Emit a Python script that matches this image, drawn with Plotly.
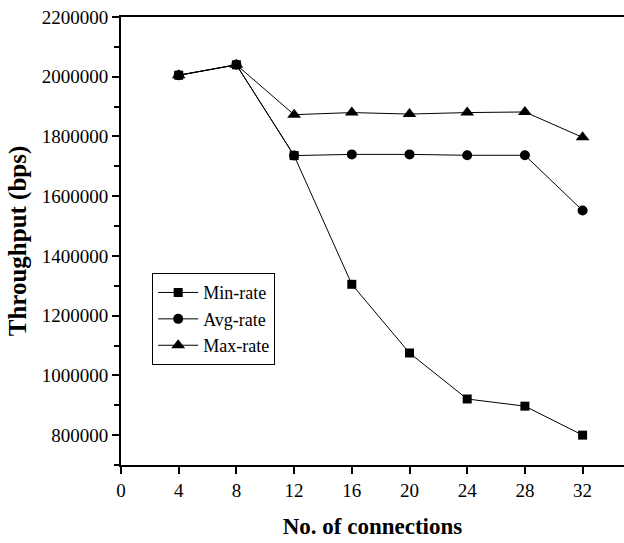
import plotly.graph_objects as go

connections = [4, 8, 12, 16, 20, 24, 28, 32]
min_rate = [2005000, 2040000, 1736000, 1305000, 1075000, 921000, 897000, 800000]
avg_rate = [2005000, 2040000, 1736000, 1740000, 1740000, 1737000, 1737000, 1552000]
max_rate = [2005000, 2040000, 1873000, 1880000, 1875000, 1880000, 1882000, 1797000]

x_ticks = [0, 4, 8, 12, 16, 20, 24, 28, 32]
y_ticks = [800000, 1000000, 1200000, 1400000, 1600000, 1800000, 2000000, 2200000]

FONT = "Liberation Serif, Times New Roman, serif"

fig = go.Figure()
series = [
    ("Min-rate", min_rate, "square", 9),
    ("Avg-rate", avg_rate, "circle", 10),
    ("Max-rate", max_rate, "triangle-up", 12),
]
for name, vals, sym, sz in series:
    fig.add_trace(go.Scatter(
        x=connections, y=vals, name=name, mode="lines+markers",
        line=dict(color="black", width=1),
        marker=dict(symbol=sym, size=sz, color="black"),
    ))

fig.update_layout(
    width=624, height=543,
    margin=dict(l=121, r=0, t=17, b=78),
    paper_bgcolor="white", plot_bgcolor="white",
    font=dict(family=FONT, color="black", size=19),
    showlegend=True,
    legend=dict(
        x=0.062, y=0.428, xanchor="left", yanchor="top",
        bordercolor="black", borderwidth=1, bgcolor="white",
        font=dict(family=FONT, size=18, color="black"),
        tracegroupgap=0, itemwidth=40,
    ),
)
fig.update_xaxes(
    range=[0, 34.87], tickvals=x_ticks, ticktext=[str(v) for v in x_ticks],
    showline=True, linecolor="black", linewidth=2, mirror=True,
    ticks="outside", ticklen=7, tickwidth=1.5, tickcolor="black",
    showgrid=False, zeroline=False,
    tickfont=dict(family=FONT, size=19),
    title=dict(text="<b>No. of connections</b>", font=dict(family=FONT, size=23), standoff=18),
)
fig.update_yaxes(
    range=[700000, 2200000], tickvals=y_ticks, ticktext=[str(v) for v in y_ticks],
    showline=True, linecolor="black", linewidth=2,
    ticks="outside", ticklen=7, tickwidth=1.5, tickcolor="black",
    minor=dict(dtick=100000, tick0=700000, ticks="outside", ticklen=5, tickwidth=1.5, tickcolor="black"),
    showgrid=False, zeroline=False,
    tickfont=dict(family=FONT, size=19),
    title=dict(text="<b>Throughput (bps)</b>", font=dict(family=FONT, size=25), standoff=8),
)

fig.write_html("out.html")
